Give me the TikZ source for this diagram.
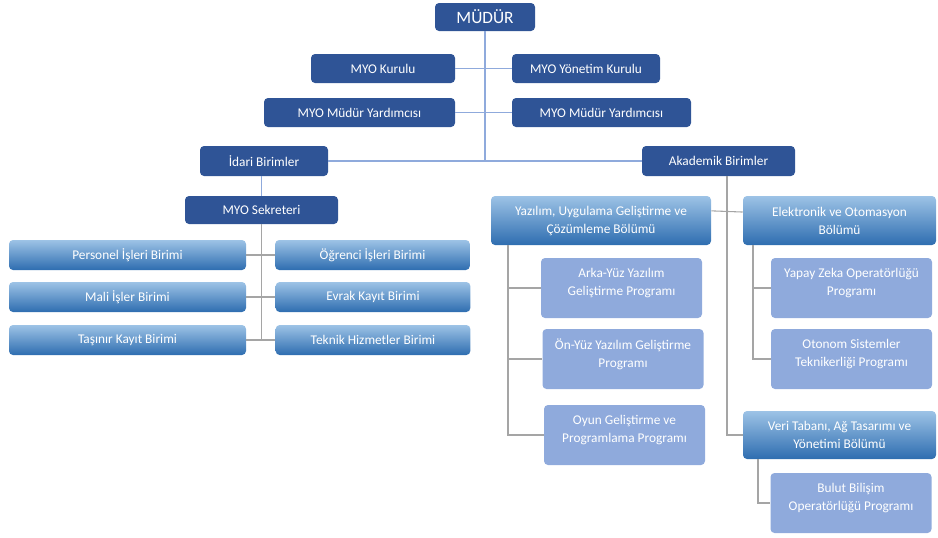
\documentclass[tikz,border=0pt]{standalone}
\usepackage{fontspec}
\setmainfont{Carlito}
\usepackage{tikz}

\definecolor{darkblue}{HTML}{2F5496}
\definecolor{lightblue}{HTML}{8FAADC}
\definecolor{gradtop}{HTML}{9DC3E6}
\definecolor{gradbottom}{HTML}{2E6DB0}
\definecolor{linegray}{HTML}{A5A5A5}

\begin{document}
\begin{tikzpicture}[x=0.75pt, y=-0.75pt]

	\tikzstyle{base_node}=[rectangle, rounded corners=3pt, text=white, align=center, inner sep=2pt, font=\fontsize{10}{13.5}\selectfont]
	\tikzstyle{top_node}=[base_node, fill=darkblue]
	\tikzstyle{unit_node}=[base_node, top color=gradtop, bottom color=gradbottom]
	\tikzstyle{program_node}=[base_node, fill=lightblue, minimum width=120.75pt, minimum height=45pt, text depth=9pt]
	\tikzstyle{blue_line}=[draw=lightblue, line width=0.8pt]
	\tikzstyle{gray_line}=[draw=linegray, line width=0.8pt]

	\useasboundingbox (0,0) rectangle (938,537);

	%Main nodes
	\node[top_node, minimum width=75pt, minimum height=21pt, font=\fontsize{13}{15}\selectfont] at (485, 17) (mudur) {MÜDÜR};
	\node[top_node, minimum width=108pt, minimum height=21.75pt] at (383, 68.5) (kurulu) {MYO Kurulu};
	\node[top_node, minimum width=111pt, minimum height=21.75pt] at (586, 68.5) (yonetim) {MYO Yönetim Kurulu};
	\node[top_node, minimum width=143.25pt, minimum height=21.75pt] at (359.5, 112.5) (yrd_left) {MYO Müdür Yardımcısı};
	\node[top_node, minimum width=134.25pt, minimum height=21.75pt] at (601.5, 112.5) (yrd_right) {MYO Müdür Yardımcısı};
	\node[top_node, minimum width=96pt, minimum height=22.5pt] at (264, 161) (idari) {İdari Birimler};
	\node[top_node, minimum width=114.75pt, minimum height=22.5pt] at (718.5, 161) (akademik) {Akademik Birimler};
	\node[top_node, minimum width=114.75pt, minimum height=21pt] at (261.5, 210) (sekreter) {MYO Sekreteri};

	% Idari units
	\node[unit_node, minimum width=177.75pt, minimum height=22.5pt] at (127.5, 255) (personel) {Personel İşleri Birimi};
	\node[unit_node, minimum width=177.75pt, minimum height=22.5pt] at (127.5, 297) (mali) {Mali İşler Birimi};
	\node[unit_node, minimum width=177.75pt, minimum height=22.5pt] at (127.5, 340) (tasinir) {Taşınır Kayıt Birimi};
	\node[unit_node, minimum width=146pt, minimum height=22.5pt] at (372.5, 255) (ogrenci) {Öğrenci İşleri Birimi};
	\node[unit_node, minimum width=146pt, minimum height=22.5pt] at (373, 297) (evrak) {Evrak Kayıt Birimi};
	\node[unit_node, minimum width=146pt, minimum height=22.5pt] at (373, 340) (teknik) {Teknik Hizmetler Birimi};

	% Akademik units
	\node[unit_node, minimum width=165pt, minimum height=36.75pt] at (601, 220.5) (yazilim) {Yazılım, Uygulama Geliştirme ve\\ Çözümleme Bölümü};
	\node[unit_node, minimum width=144.75pt, minimum height=36.75pt] at (839.5, 220.5) (elektronik) {Elektronik ve Otomasyon\\ Bölümü};
	\node[unit_node, minimum width=144.75pt, minimum height=36pt] at (839.5, 435) (veri) {Veri Tabanı, Ağ Tasarımı ve\\ Yönetimi Bölümü};

	\node[program_node] at (621.5, 288) (arka) {Arka-Yüz Yazılım\\ Geliştirme Programı};
	\node[program_node] at (623, 359) (onyuz) {Ön-Yüz Yazılım Geliştirme\\ Programı};
	\node[program_node] at (624.5, 435) (oyun) {Oyun Geliştirme ve\\ Programlama Programı};
	\node[program_node] at (851.5, 288) (yapay) {Yapay Zeka Operatörlüğü\\ Programı};
	\node[program_node] at (851.5, 359) (otonom) {Otonom Sistemler\\ Teknikerliği Programı};
	\node[program_node] at (851, 503) (bulut) {Bulut Bilişim\\ Operatörlüğü Programı};

	\coordinate (akademik_ref) at (727, 176);
	\coordinate (yazilim_ref) at (508, 245);
	\coordinate (elektronik_ref) at (753, 245);
	\coordinate (veri_ref) at (758, 459);

	% Connections
	\draw[blue_line] (mudur) -- (mudur |- idari);
	\draw[blue_line] (kurulu) -- (yonetim);
	\draw[blue_line] (yrd_left) -- (yrd_right);
	\draw[blue_line] (idari) -- (akademik);
	\draw[blue_line] (sekreter.north) -- (sekreter.north |- idari.south);

	\draw[gray_line] (sekreter.south) -- (sekreter.south |- tasinir);
	\draw[gray_line] (personel) -- (ogrenci);
	\draw[gray_line] (mali) -- (evrak);
	\draw[gray_line] (tasinir) -- (teknik);

	\draw[gray_line] (akademik_ref) |- (veri.west);
	\draw[gray_line] (yazilim.5) -- (elektronik.175);

	\draw[gray_line] (yazilim_ref) |- (oyun.west);
	\draw[gray_line] (yazilim_ref |- arka) -- (arka.west);
	\draw[gray_line] (yazilim_ref |- onyuz) -- (onyuz.west);

	\draw[gray_line] (elektronik_ref) |- (otonom.west);
	\draw[gray_line] (elektronik_ref |- yapay) -- (yapay.west);

	\draw[gray_line] (veri_ref) |- (bulut.west);

\end{tikzpicture}
\end{document}
